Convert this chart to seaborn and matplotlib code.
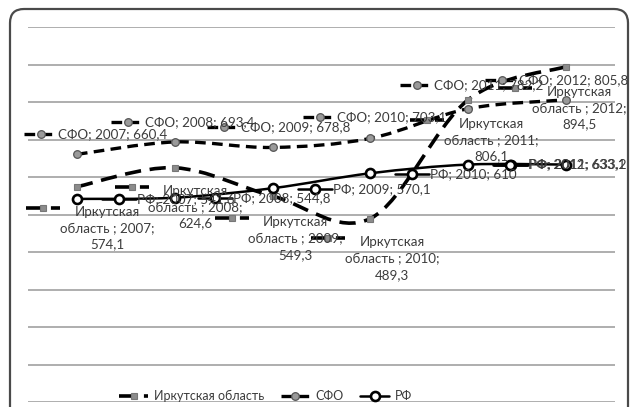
import numpy as np
import pandas as pd
import matplotlib
matplotlib.use("Agg")
import matplotlib.pyplot as plt
import seaborn as sns
from matplotlib.path import Path
from matplotlib.patches import PathPatch, FancyBboxPatch
from matplotlib.lines import Line2D
from matplotlib.transforms import Affine2D

# ---------------- data ----------------
years = ["2007", "2008", "2009", "2010", "2011", "2012"]
irkutsk = [574.1, 624.6, 549.3, 489.3, 806.1, 894.5]
sfo = [660.4, 693.4, 678.8, 703.1, 782.2, 805.8]
rf = [541.6, 544.8, 570.1, 610.0, 633.2, 633.1]
series_names = ["Иркутская область", "СФО", "РФ"]

# ---------------- setup ----------------
sns.set_theme(style="white")
FONT = ["Lato", "DejaVu Sans"]
plt.rcParams["font.family"] = FONT
W, H = 632, 407
fig = plt.figure(figsize=(W / 100, H / 100), dpi=100)
fig.patch.set_facecolor("white")
img = Affine2D().scale(1, -1).translate(0, H)  # image pixel coords (y down)

# outer rounded frame (cut off at the bottom)
frame = FancyBboxPatch((10, 9), 618, 440, boxstyle="round,pad=0,rounding_size=14",
                       transform=img, facecolor="white", edgecolor="#4a4a4a", lw=1.6, zorder=0)
fig.add_artist(frame)

ax = fig.add_axes([28 / W, 1 - 402 / H, (615 - 28) / W, (402 - 27) / H])
ax.patch.set_alpha(0)
ax.set_xlim(-0.5, len(years) - 0.5)
ax.set_ylim(0, 1000)
ax.set_yticks(np.arange(0, 1001, 100))
ax.set_xticks(range(len(years)))
ax.yaxis.grid(True, color="#a8a8a8", lw=1.3)
ax.xaxis.grid(False)
ax.tick_params(left=False, bottom=False, labelleft=False, labelbottom=False)
for s in ax.spines.values():
    s.set_visible(False)

idx = np.arange(len(years))
df = pd.DataFrame({
    "idx": np.tile(idx, 3),
    "value": irkutsk + sfo + rf,
    "series": np.repeat(series_names, len(years)),
})

styles = {
    "Иркутская область": dict(ls=(0, (4.5, 2.4)), lw=2.6, color="black",
                              marker="s", ms=4.5, mfc="#8c8c8c", mec="#777777", mew=0.8),
    "СФО": dict(ls=(0, (3.2, 1.9)), lw=2.4, color="black",
                marker="o", ms=5.5, mfc="#9a9a9a", mec="#555555", mew=0.9),
    "РФ": dict(ls="-", lw=1.8, color="black",
               marker="o", ms=6.5, mfc="white", mec="black", mew=1.9),
}


def smooth_path(xs, ys):
    verts = [(xs[0], ys[0])]
    codes = [Path.MOVETO]
    n = len(xs)
    for i in range(n - 1):
        p0 = (xs[i - 1], ys[i - 1]) if i > 0 else (xs[i], ys[i])
        p1 = (xs[i], ys[i])
        p2 = (xs[i + 1], ys[i + 1])
        p3 = (xs[i + 2], ys[i + 2]) if i + 2 < n else p2
        c1 = (p1[0] + (p2[0] - p0[0]) / 6, p1[1] + (p2[1] - p0[1]) / 6)
        c2 = (p2[0] - (p3[0] - p1[0]) / 6, p2[1] - (p3[1] - p1[1]) / 6)
        verts += [c1, c2, p2]
        codes += [Path.CURVE4] * 3
    return Path(verts, codes)


for name in series_names:
    st = styles[name]
    sub = df[df.series == name]
    patch = PathPatch(smooth_path(sub.idx.values, sub.value.values), fill=False,
                      edgecolor=st["color"], lw=st["lw"], linestyle=st["ls"], zorder=3,
                      capstyle="butt")
    ax.add_patch(patch)
    sns.lineplot(data=sub, x="idx", y="value", ax=ax, linestyle="", marker=st["marker"],
                 markersize=st["ms"], markerfacecolor=st["mfc"], markeredgecolor=st["mec"],
                 markeredgewidth=st["mew"], zorder=4, legend=False, errorbar=None)
ax.set_xlabel("")
ax.set_ylabel("")
ax.set_xlim(-0.5, len(years) - 0.5)
ax.set_ylim(0, 1000)

TXT = "#3c3c3c"
FS = 9.6


def pt(i, v):
    X, Y = ax.transData.transform((i, v))
    return X, H - Y


def key(xc, yc, name):
    st = styles[name]
    fig.add_artist(Line2D([xc - 17, xc + 17], [yc, yc], transform=img, color=st["color"],
                          lw=st["lw"], ls=st["ls"], zorder=5))
    fig.add_artist(Line2D([xc], [yc], transform=img, ls="", marker=st["marker"], ms=st["ms"],
                          mfc=st["mfc"], mec=st["mec"], mew=st["mew"], zorder=6))


def fmt(v):
    return f"{v:g}".replace(".", ",")


# data labels -- layout offsets (pixels)
sfo_off = [(-19, -20), (-30, -20), (-32, -20), (-33, -21), (-34, -24), (-47, -20)]
irk_off = [(30, 23), (21, 21), (23, 24), (22, 21.5), (23, 22), (13, 23)]
rf_off = [(60, 0), (58, 0), (60, 1), (60, 1), (61, 0), (-38, 0)]

for i, y in enumerate(years):
    # СФО
    px, py = pt(i, sfo[i])
    dx, dy = sfo_off[i]
    fig.text(px + dx, py + dy, f"СФО; {y}; {fmt(sfo[i])}", transform=img, ha="left",
             va="center", fontsize=FS, color=TXT, zorder=7, family=FONT)
    key(px + dx - 17, py + dy, "СФО")
    # Иркутская
    px, py = pt(i, irkutsk[i])
    dx, dy = irk_off[i]
    fig.text(px + dx, py + dy + 18.5, f"Иркутская\nобласть ; {y};\n{fmt(irkutsk[i])}",
             transform=img, ha="center", va="center", fontsize=FS, color=TXT,
             linespacing=1.42, zorder=7, family=FONT)
    key(px + dx - 64, py + dy - 2, "Иркутская область")
    # РФ
    px, py = pt(i, rf[i])
    dx, dy = rf_off[i]
    fig.text(px + dx, py + dy, f"РФ; {y}; {fmt(rf[i])}", transform=img, ha="left",
             va="center", fontsize=FS, color=TXT, zorder=7, family=FONT)
    key(px + dx - 18, py + dy, "РФ")

# legend
handles = [Line2D([], [], color=styles[n]["color"], lw=styles[n]["lw"], ls=styles[n]["ls"],
                  marker=styles[n]["marker"], ms=styles[n]["ms"], mfc=styles[n]["mfc"],
                  mec=styles[n]["mec"], mew=styles[n]["mew"]) for n in series_names]
leg = fig.legend(handles, series_names, loc="center", bbox_to_anchor=(266 / W, 1 - 396 / H),
                 ncol=3, frameon=False, fontsize=9, handlelength=2.3, handletextpad=0.5,
                 columnspacing=1.3, labelcolor=TXT)

fig.savefig("out.png", dpi=100)
